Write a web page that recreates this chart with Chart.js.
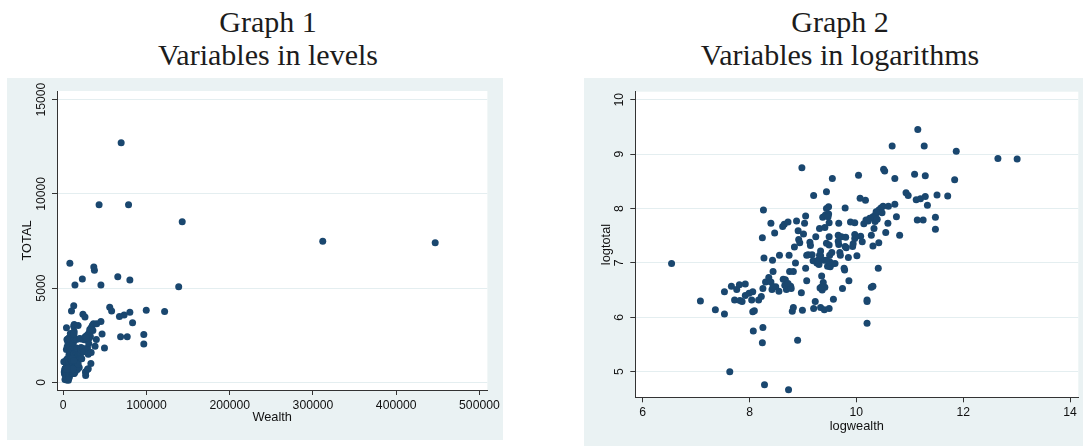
<!DOCTYPE html>
<html>
<head>
<meta charset="utf-8">
<script src="https://cdn.jsdelivr.net/npm/chart.js@4.4.1/dist/chart.umd.min.js"></script>
<style>
  html, body { margin: 0; padding: 0; background: #fff; }
  body { width: 1083px; height: 446px; position: relative; overflow: hidden; }
  .title {
    position: absolute; top: 5px; width: 400px; text-align: center;
    font-family: 'Liberation Serif', serif; font-size: 30px; line-height: 33.3px; color: #1c1c1c;
  }
  .panel { position: absolute; background: #eaf2f3; }
  #panel1 { left: 7px; top: 78px; width: 496px; height: 362px; }
  #panel2 { left: 584px; top: 78px; width: 499px; height: 368px; }
</style>
</head>
<body>
<div class="title" style="left:68px">Graph 1<br>Variables in levels</div>
<div class="title" style="left:640px">Graph 2<br>Variables in logarithms</div>
<div class="panel" id="panel1"><canvas id="levels-chart"></canvas></div>
<div class="panel" id="panel2"><canvas id="logs-chart"></canvas></div>
<script>
const logWealth = [
  6.54, 7.08, 7.36, 7.53, 7.53, 7.63, 7.66, 7.72, 7.76, 7.81, 7.82, 7.86, 7.92, 7.92, 7.99, 8.04,
  8.06, 8.06, 8.09, 8.07, 8.17, 8.22, 8.25, 8.24, 8.25, 8.28, 8.24, 8.26, 8.27, 8.30, 8.36, 8.40,
  8.43, 8.44, 8.40, 8.42, 8.47, 8.49, 8.55, 8.56, 8.62, 8.65, 8.72, 8.63, 8.67, 8.69, 8.73, 8.74,
  8.75, 8.77, 8.78, 8.80, 8.82, 8.82, 8.84, 8.86, 8.88, 8.90, 8.91, 8.92, 8.94, 8.97, 8.98, 8.99,
  9.01, 9.03, 9.05, 9.05, 9.07, 9.07, 9.13, 9.14, 9.10, 9.17, 9.19, 9.20, 9.20, 9.23, 9.24, 9.26,
  9.30, 9.31, 9.32, 9.33, 9.33, 9.33, 9.35, 9.36, 9.37, 9.38, 9.39, 9.40, 9.41, 9.41, 9.42, 9.44,
  9.44, 9.44, 9.46, 9.48, 9.48, 9.49, 9.49, 9.49, 9.49, 9.50, 9.51, 9.54, 9.55, 9.55, 9.57, 9.60,
  9.66, 9.66, 9.67, 9.67, 9.69, 9.70, 9.72, 9.74, 9.77, 9.79, 9.79, 9.80, 9.81, 9.85, 9.86, 9.89,
  9.93, 9.94, 9.97, 9.97, 9.97, 10.01, 10.04, 10.07, 10.08, 10.11, 10.14, 10.17, 10.18, 10.20, 10.20, 10.20,
  10.28, 10.28, 10.31, 10.31, 10.31, 10.33, 10.35, 10.36, 10.39, 10.41, 10.42, 10.42, 10.46, 10.48, 10.50, 10.51,
  10.53, 10.55, 10.59, 10.60, 10.67, 10.72, 10.72, 10.75, 10.81, 10.93, 10.97, 11.09, 11.15, 11.12, 11.14, 11.20,
  11.25, 11.27, 11.29, 11.29, 11.33, 11.48, 11.48, 11.51, 11.71, 11.84, 11.87, 12.65, 13.01,
  10.25, 10.37, 10.22, 9.47, 9.50, 8.66, 8.72, 9.78, 9.35, 8.44, 9.28, 9.31, 9.44
];
const logTotal = [
  6.99, 6.30, 6.14, 6.06, 6.47, 5.00, 6.57, 6.32, 6.51, 6.60, 6.31, 6.29, 6.61, 6.40, 6.44, 6.32,
  6.47, 6.10, 6.12, 5.75, 6.32, 6.38, 5.81, 5.53, 6.53, 4.76, 7.46, 7.97, 7.09, 6.65, 6.73, 7.73,
  7.05, 6.84, 6.65, 6.51, 7.55, 6.56, 6.48, 7.14, 7.67, 7.71, 7.75, 6.70, 6.69, 6.51, 4.67, 7.14,
  6.84, 6.57, 6.53, 6.11, 6.18, 6.84, 7.29, 7.00, 7.77, 5.58, 7.59, 7.43, 7.37, 6.45, 8.75, 6.13,
  7.53, 7.73, 7.86, 6.90, 7.14, 6.67, 7.38, 7.32, 7.15, 7.15, 7.04, 8.24, 6.16, 6.29, 7.48, 7.00,
  6.97, 7.63, 6.54, 7.22, 7.13, 6.18, 6.76, 6.50, 7.84, 6.64, 7.05, 6.14, 6.55, 7.65, 7.88, 8.31,
  7.36, 8.00, 6.94, 8.03, 7.90, 7.48, 7.33, 6.16, 7.74, 7.14, 6.93, 7.19, 8.55, 6.98, 6.33, 6.99,
  7.51, 7.40, 7.73, 7.34, 7.19, 7.14, 7.48, 6.53, 6.90, 8.01, 7.30, 7.47, 7.28, 7.10, 6.67, 7.75,
  7.30, 7.35, 7.74, 7.52, 7.45, 7.13, 8.61, 8.19, 7.49, 7.39, 7.72, 8.15, 7.79, 6.32, 6.29, 5.89,
  7.51, 6.55, 6.57, 7.31, 7.85, 7.63, 7.76, 7.89, 7.80, 6.90, 7.37, 7.97, 8.01, 7.92, 8.04, 8.72,
  8.69, 7.56, 7.73, 8.04, 9.15, 8.08, 8.55, 7.85, 7.51, 8.29, 8.24, 8.63, 9.45, 8.16, 7.79, 8.18,
  7.79, 9.15, 8.60, 8.22, 8.06, 7.84, 7.62, 8.25, 8.23, 8.53, 9.05, 8.92, 8.91,
  7.82, 7.94, 7.77, 7.85, 7.02, 6.59, 6.62, 6.87, 6.56, 6.56, 7.05, 7.14, 7.05
];

// Axis ranges and tick labels
const levelsXTicks = [0, 100000, 200000, 300000, 400000, 500000];
const levelsYTicks = [0, 5000, 10000, 15000];
const logsXTicks = [6, 8, 10, 12, 14];
const logsYTicks = [5, 6, 7, 8, 9, 10];

const markerColor = '#1a476f';
const axisColor = '#333';
const gridColor = '#e4eef0';
const tickFont = { family: "'Liberation Sans', Arial, sans-serif", size: 12.2 };
const titleFont = { family: "'Liberation Sans', Arial, sans-serif", size: 12.8 };

// White plot region on the tinted graph region
const plotRegion = {
    id: 'plotRegion',
    beforeDraw(chart) {
        const { ctx, chartArea: a } = chart;
        ctx.save();
        ctx.fillStyle = '#fff';
        ctx.fillRect(a.left, a.top, a.right - a.left, a.bottom - a.top);
        ctx.restore();
    },
};

function drawScatter(id, xs, ys, o) {
    const ctx = document.getElementById(id).getContext('2d');
    return new Chart(ctx, {
        type: 'scatter',
        data: {
            datasets: [{
                data: xs.map((x, i) => ({ x: x, y: ys[i] })),
                backgroundColor: markerColor,
                pointBackgroundColor: markerColor,
                borderWidth: 0,
                pointBorderWidth: 0,
                pointRadius: 3.5,
            }],
        },
        options: {
            responsive: true,
            maintainAspectRatio: false,
            animation: false,
            events: [],
            layout: { padding: { top: o.padTop, right: o.padRight, left: 0, bottom: 0 } },
            plugins: { legend: { display: false }, tooltip: { enabled: false } },
            scales: {
                x: {
                    type: 'linear',
                    min: o.xMin, max: o.xMax,
                    afterBuildTicks: (axis) => { axis.ticks = o.xTicks.map(v => ({ value: v })); },
                    afterFit: (s) => { s.height = o.xAxisHeight; },
                    grid: { drawOnChartArea: false, tickLength: 5, tickColor: axisColor },
                    border: { color: axisColor, width: 1 },
                    ticks: { color: '#111', font: tickFont, padding: 3, autoSkip: false, maxRotation: 0,
                        callback: (v) => String(v) },
                    title: { display: true, text: o.xTitle, color: '#111', font: titleFont,
                        padding: { top: 0, bottom: o.xTitlePad } },
                },
                y: {
                    type: 'linear',
                    min: o.yMin, max: o.yMax,
                    afterBuildTicks: (axis) => { axis.ticks = o.yTicks.map(v => ({ value: v })); },
                    afterFit: (s) => { s.width = o.yAxisWidth; },
                    grid: { color: gridColor, lineWidth: 1, tickLength: 5, tickColor: axisColor },
                    border: { color: axisColor, width: 1 },
                    ticks: { color: '#111', font: tickFont, padding: o.yTickPad, autoSkip: false,
                        minRotation: 90, maxRotation: 90, crossAlign: 'center',
                        callback: (v) => String(v) },
                    title: { display: true, text: o.yTitle, color: '#111', font: titleFont,
                        padding: { top: o.yTitlePad, bottom: 0 } },
                },
            },
        },
        plugins: [plotRegion],
    });
}

const levelsChart = drawScatter('levels-chart', logWealth.map(Math.exp), logTotal.map(Math.exp), {
    xMin: -7520, xMax: 509550, yMin: -408, yMax: 15456,
    xTicks: levelsXTicks, yTicks: levelsYTicks,
    xTitle: 'Wealth', yTitle: 'TOTAL',
    padTop: 13, padRight: 13, xAxisHeight: 50, yAxisWidth: 50,
    xTitlePad: 14.6, yTitlePad: 12.6, yTickPad: -6.6,
});

const logsChart = drawScatter('logs-chart', logWealth, logTotal, {
    xMin: 5.861, xMax: 14.155, yMin: 4.529, yMax: 10.147,
    xTicks: logsXTicks, yTicks: logsYTicks,
    xTitle: 'logwealth', yTitle: 'logtotal',
    padTop: 13.7, padRight: 4.7, xAxisHeight: 48.7, yAxisWidth: 51.3,
    xTitlePad: 12.3, yTitlePad: 15, yTickPad: 4.2,
});
</script>
</body>
</html>
